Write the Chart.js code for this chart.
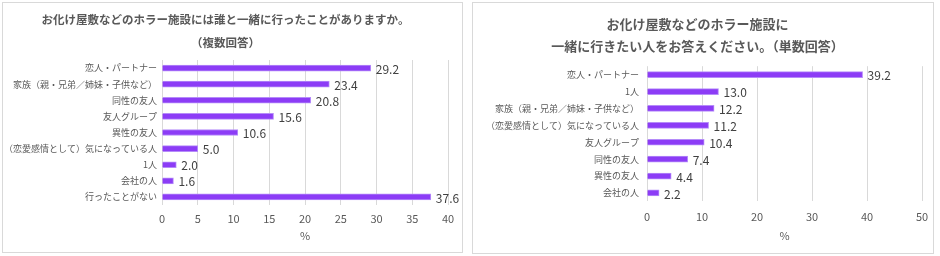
<!DOCTYPE html>
<html>
<head>
<meta charset="utf-8">
<script src="https://cdn.jsdelivr.net/npm/chart.js@4/dist/chart.umd.min.js"></script>
<style>
  body { margin: 0; background: #fff; }
  .panel { position: absolute; border: 1px solid #d9d9d9; background: #fff; }
  #p1 { left: 2px; top: 2px; width: 459px; height: 249px; }
  #p2 { left: 472px; top: 2px; width: 460px; height: 250px; }
</style>
</head>
<body>
<div class="panel" id="p1"><canvas id="c1" width="459" height="249"></canvas></div>
<div class="panel" id="p2"><canvas id="c2" width="460" height="250"></canvas></div>
<script>
const FONT = "'Noto Sans CJK JP', 'Noto Sans', sans-serif";
const TEXT = '#595959';
const BAR = '#8c3cf6';

// left chart: 誰と一緒に行ったことがありますか（複数回答）
const leftTitle = ['お化け屋敷などのホラー施設には誰と一緒に行ったことがありますか。', '（複数回答）'];
const leftLabels = ['恋人・パートナー', '家族（親・兄弟／姉妹・子供など）', '同性の友人', '友人グループ', '異性の友人',
  '（恋愛感情として）気になっている人', '1人', '会社の人', '行ったことがない'];
const leftValues = [29.2, 23.4, 20.8, 15.6, 10.6, 5.0, 2.0, 1.6, 37.6];
const leftMax = 40;
const leftStep = 5;

// right chart: 一緒に行きたい人（単数回答）
const rightTitle = ['お化け屋敷などのホラー施設に', '一緒に行きたい人をお答えください。（単数回答）'];
const rightLabels = ['恋人・パートナー', '1人', '家族（親・兄弟／姉妹・子供など）', '（恋愛感情として）気になっている人',
  '友人グループ', '同性の友人', '異性の友人', '会社の人'];
const rightValues = [39.2, 13.0, 12.2, 11.2, 10.4, 7.4, 4.4, 2.2];
const rightMax = 50;
const rightStep = 10;

// value labels at the end of each bar
const valueLabels = {
  id: 'valueLabels',
  afterDatasetsDraw(chart) {
    const { ctx } = chart;
    const meta = chart.getDatasetMeta(0);
    ctx.save();
    ctx.font = '12px ' + FONT;
    ctx.fillStyle = '#404040';
    ctx.textAlign = 'left';
    ctx.textBaseline = 'middle';
    meta.data.forEach((bar, i) => {
      const v = chart.data.datasets[0].data[i];
      ctx.fillText(v.toFixed(1), bar.x + 5, bar.y + 1);
    });
    ctx.restore();
  },
};

function makeChart(id, title, labels, values, max, step, opts) {
  return new Chart(document.getElementById(id).getContext('2d'), {
    type: 'bar',
    data: {
      labels,
      datasets: [{
        data: values,
        backgroundColor: BAR,
        borderColor: '#b58cf9',
        borderWidth: { top: 1, bottom: 1, right: 1, left: 0 },
        borderSkipped: false,
        barThickness: 6,
      }],
    },
    options: {
      indexAxis: 'y',
      responsive: false,
      animation: false,
      layout: { padding: opts.padding },
      plugins: {
        legend: { display: false },
        tooltip: { enabled: false },
        title: {
          display: true,
          text: title,
          color: TEXT,
          font: { family: FONT, size: opts.titleSize, weight: 'bold', lineHeight: opts.titleLine },
          padding: { top: opts.titleTop, bottom: opts.titleBottom },
        },
      },
      scales: {
        x: {
          min: 0,
          max,
          ticks: { stepSize: step, color: TEXT, font: { family: FONT, size: 11 }, padding: 2, maxRotation: 0 },
          // invisible tick marks push the labels down without eating horizontal room
          grid: { color: '#d9d9d9', drawTicks: true, tickLength: opts.tickLen, tickColor: 'transparent' },
          border: { display: false },
          title: {
            display: true, text: '%', color: TEXT,
            font: { family: FONT, size: 11, lineHeight: 0.9 }, padding: 0,
          },
          afterFit(scale) { scale.height = opts.axisHeight; },
        },
        y: {
          ticks: { color: TEXT, font: { family: FONT, size: 9 }, padding: opts.labelPad, autoSkip: false },
          grid: { display: false, drawTicks: false },
          border: { display: false },
          afterFit(scale) { scale.width = opts.axisWidth; },
        },
      },
    },
    plugins: [valueLabels],
  });
}

makeChart('c1', leftTitle, leftLabels, leftValues, leftMax, leftStep, {
  padding: { left: 0, right: 14, top: 0, bottom: 11 },
  axisWidth: 159, axisHeight: 36, labelPad: 5,
  titleSize: 11.5, titleLine: 2.0, titleTop: 5, titleBottom: 6,
  tickLen: 5.4,
});
makeChart('c2', rightTitle, rightLabels, rightValues, rightMax, rightStep, {
  padding: { left: 0, right: 11, top: 0, bottom: 12 },
  axisWidth: 174, axisHeight: 39.6, labelPad: 8,
  titleSize: 13, titleLine: 1.7, titleTop: 10, titleBottom: 9,
  tickLen: 7,
});
</script>
</body>
</html>
